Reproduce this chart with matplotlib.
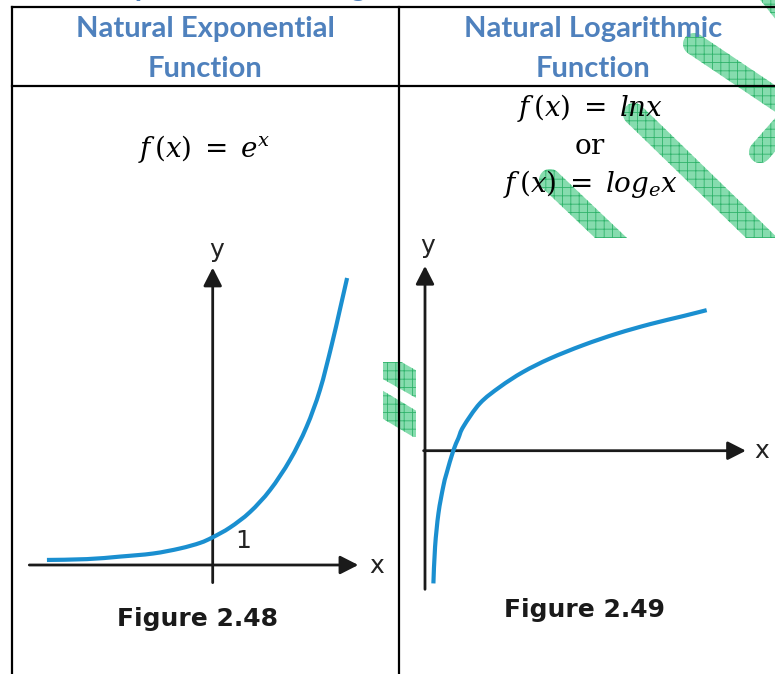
import matplotlib
matplotlib.use("Agg")
import matplotlib.pyplot as plt
from matplotlib.patches import Polygon, Circle, Rectangle, PathPatch
from matplotlib.path import Path
import numpy as np

plt.rcParams['mathtext.fontset'] = 'custom'
plt.rcParams['mathtext.rm'] = 'DejaVu Serif'
plt.rcParams['mathtext.it'] = 'DejaVu Serif:italic'
plt.rcParams['hatch.linewidth'] = 0.6

# ---------------- data ----------------
headers = [["Natural Exponential", "Function"], ["Natural Logarithmic", "Function"]]
title_above = "Natural Exponential and Logarithmic Functions"
formula_left = r"$f\,(x)\;=\;e^{x}$"
formula_right = [r"$f\,(x)\;=\;lnx$", r"$\mathrm{or}$", r"$f\,(x)\;=\;log_{e}x$"]
captions = ["Figure 2.48", "Figure 2.49"]

# curve points (axis units)
exp_x = [-5.92, -4.49, -3.31, -2.13, -1.17, -0.45, 0.00, 0.62, 1.33, 2.05, 2.76, 3.35, 3.83, 4.24, 4.54, 4.80]
exp_y = [0.18, 0.21, 0.30, 0.41, 0.59, 0.79, 0.99, 1.34, 1.89, 2.68, 3.75, 4.93, 6.25, 7.82, 9.11, 10.25]

ln_x = [0.30, 0.36, 0.48, 0.65, 0.77, 1.01, 1.19, 1.37, 1.96, 2.68, 3.50, 4.46, 5.65, 6.85, 8.04, 9.23, 10.06]
ln_y = [-4.74, -3.43, -2.24, -1.29, -0.81, 0.00, 0.44, 0.86, 1.69, 2.28, 2.81, 3.29, 3.77, 4.18, 4.52, 4.81, 5.02]

# ---------------- styles ----------------
W, H = 775, 674
BLUE_HDR = "#4F81BD"
CURVE = "#1A8FD0"
AXC = "#1a1a1a"
WM_FACE = "#86dcae"
WM_HATCH = "#2fb36b"

fig = plt.figure(figsize=(W / 100, H / 100), dpi=100)
frame = fig.add_axes([0, 0, 1, 1])
frame.set_xlim(0, W)
frame.set_ylim(H, 0)
frame.axis("off")

# ---------------- watermark (decoration) ----------------
def band(p, q, w, clip):
    p = np.array(p, float); q = np.array(q, float)
    d = q - p
    n = np.array([-d[1], d[0]]) / np.hypot(*d) * w / 2
    poly = Polygon([p + n, q + n, q - n, p - n], closed=True, facecolor=WM_FACE,
                   edgecolor=WM_HATCH, hatch="++", linewidth=0, zorder=1)
    frame.add_patch(poly)
    poly.set_clip_path(clip)
    for c in (p, q):
        circ = Circle(c, w / 2, facecolor=WM_FACE, edgecolor=WM_HATCH, hatch="++",
                      linewidth=0, zorder=1)
        frame.add_patch(circ)
        circ.set_clip_path(clip)

clip_top = Rectangle((0, 0), W, 238, transform=frame.transData)
wm_w = 22
for p, q in [((550, 180), (650, 275)), ((634, 114), (800, 275)), ((694, 44), (810, 122)),
             ((768, -8), (810, 45)), ((760, 152), (810, 95))]:
    band(p, q, wm_w, clip_top)
clip_small = Rectangle((383, 362), 33, 75, transform=frame.transData)
for p, q in [((370, 358), (430, 392)), ((370, 397), (430, 433))]:
    band(p, q, 24, clip_small)

# ---------------- table ----------------
lw_t = 1.6
frame.plot([11.5, W], [6.7, 6.7], color="black", lw=lw_t, zorder=3)
frame.plot([11.5, W], [85.8, 85.8], color="black", lw=lw_t, zorder=3)
frame.plot([11.5, 11.5], [6.7, H], color="black", lw=lw_t, zorder=3)
frame.plot([399.3, 399.3], [6.7, H], color="black", lw=lw_t, zorder=3)

hdr_font = dict(family="Lato", weight="bold", color=BLUE_HDR, fontsize=21, ha="center",
                va="baseline", zorder=4)
frame.text(-2, -4, title_above, ha="left", va="baseline", family="Lato", weight="bold",
           color=BLUE_HDR, fontsize=21)
for cx, lines in zip([205, 593], headers):
    frame.text(cx, 37, lines[0], **hdr_font)
    frame.text(cx, 77, lines[1], **hdr_font)

frame.text(204, 157, formula_left, fontsize=20, ha="center", va="baseline", zorder=4)
for y, s in zip([116, 154, 192], formula_right):
    frame.text(590, y, s, fontsize=20, ha="center", va="baseline", zorder=4)

# ---------------- plots ----------------
U = 28.0  # pixels per axis unit

def make_axes(L, R, T, B, ox, oy):
    ax = fig.add_axes([L / W, (H - B) / H, (R - L) / W, (B - T) / H])
    ax.set_xlim((L - ox) / U, (R - ox) / U)
    ax.set_ylim((oy - B) / U, (oy - T) / U)
    ax.axis("off")
    return ax

arrow_style = "-|>,head_length=0.55,head_width=0.28"

def axis_arrow(ax, start, tip):
    ax.annotate("", xy=tip, xytext=start,
                arrowprops=dict(arrowstyle=arrow_style, color=AXC, lw=2,
                                mutation_scale=20, shrinkA=0, shrinkB=0))

def smooth_curve(ax, xs, ys):
    P = np.column_stack([xs, ys]).astype(float)
    n = len(P)
    verts = [P[0]]
    codes = [Path.MOVETO]
    for i in range(n - 1):
        p0 = P[i - 1] if i > 0 else P[i]
        p1, p2 = P[i], P[i + 1]
        p3 = P[i + 2] if i + 2 < n else P[i + 1]
        verts += [p1 + (p2 - p0) / 6, p2 - (p3 - p1) / 6, p2]
        codes += [Path.CURVE4] * 3
    ax.add_patch(PathPatch(Path(verts, codes), fill=False, edgecolor=CURVE, lw=3,
                           capstyle="butt", zorder=5))

lbl = dict(family="DejaVu Sans", fontsize=18, color="#222222", ha="center", va="center")
cap = dict(family="DejaVu Sans", weight="bold", fontsize=18, color="#1a1a1a", ha="center",
           va="baseline")

# left: exponential
axL = make_axes(20, 395, 235, 600, 212.7, 565)
axis_arrow(axL, (-6.55, 0), (5.2, 0))
axis_arrow(axL, (0, -0.63), (0, 10.62))
smooth_curve(axL, exp_x, exp_y)
axL.text(0.15, 11.25, "y", **lbl)
axL.text(5.85, -0.05, "x", **lbl)
axL.text(1.08, 0.84, "1", **lbl)
axL.text(-0.54, -2.17, captions[0], **cap)

# right: logarithm
axR = make_axes(405, 775, 235, 600, 425, 450.7)
axis_arrow(axR, (-0.05, 0), (11.46, 0))
axis_arrow(axR, (0, -4.95), (0, 6.6))
smooth_curve(axR, ln_x, ln_y)
axR.text(0.1, 7.31, "y", **lbl)
axR.text(12.04, 0, "x", **lbl)
axR.text(5.70, -5.93, captions[1], **cap)

fig.savefig("out.png", dpi=100)
